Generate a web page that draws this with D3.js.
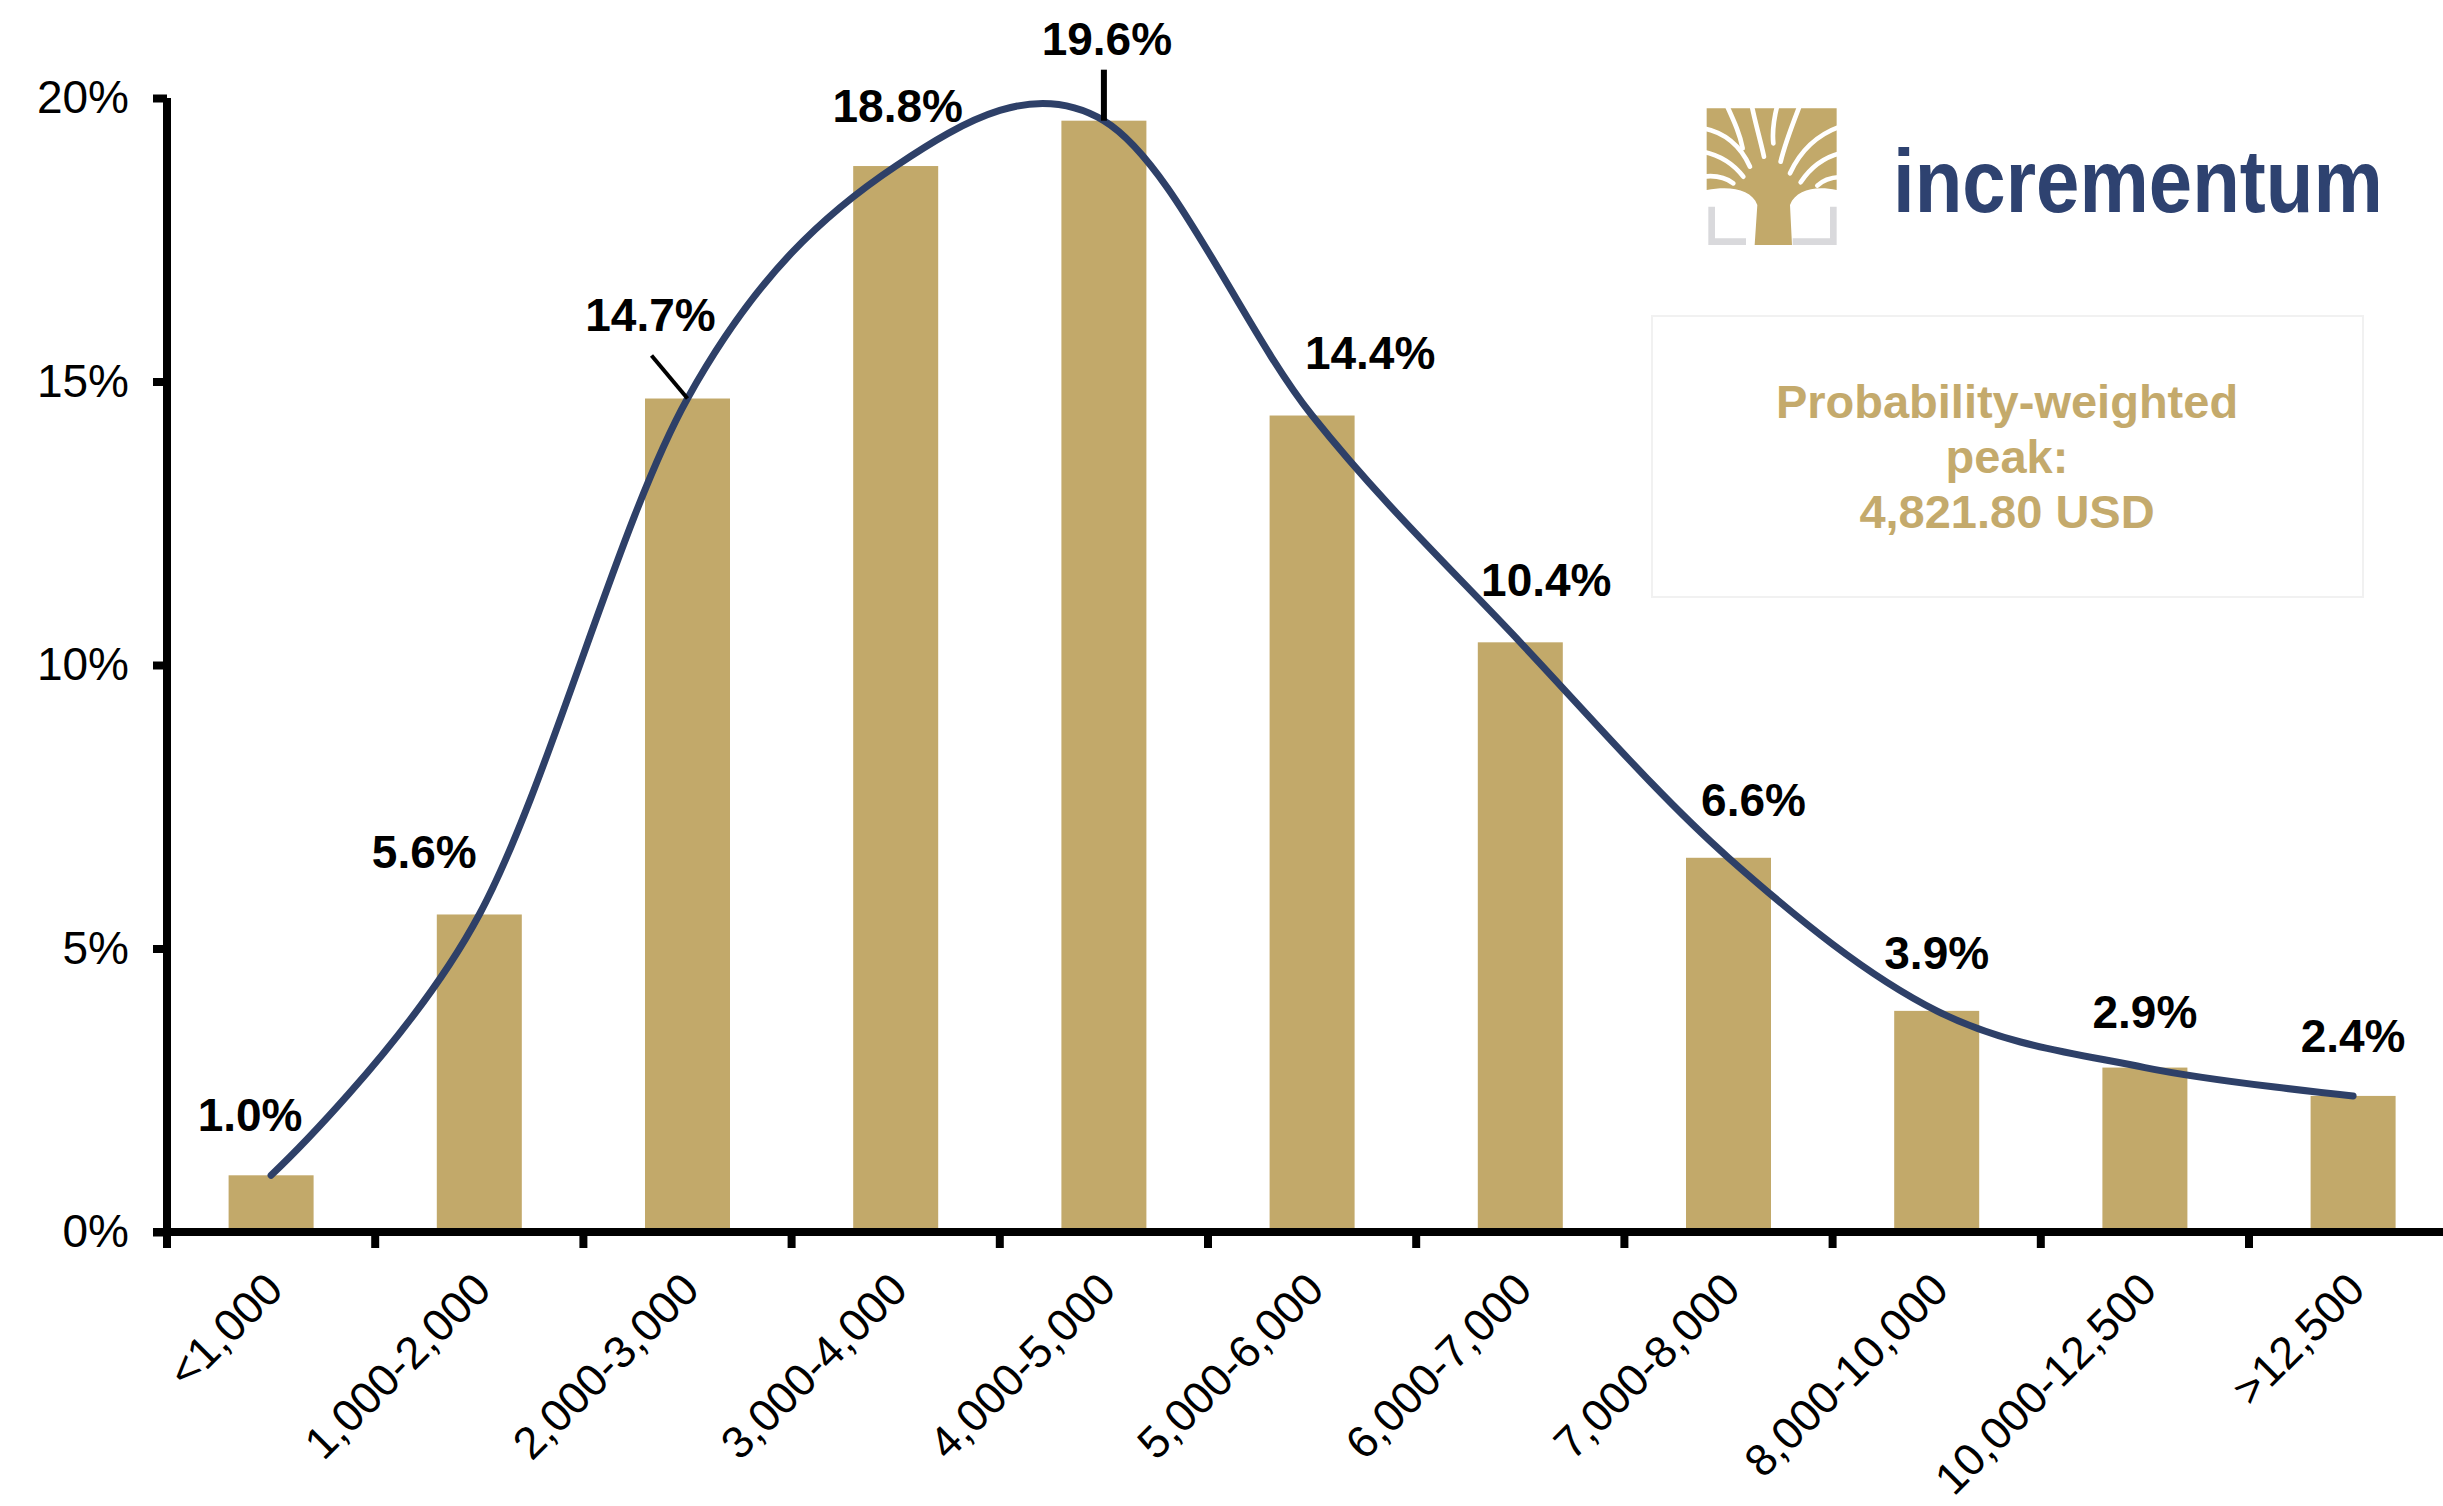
<!DOCTYPE html>
<html>
<head>
<meta charset="utf-8">
<script src="https://cdn.jsdelivr.net/npm/d3@7"></script>
<style>
  html, body { margin: 0; padding: 0; background: #ffffff; }
  svg { display: block; }
  text { font-family: "Liberation Sans", Arial, sans-serif; }
</style>
</head>
<body>
<svg id="chart" width="2443" height="1506"></svg>
<script>
// ---- data ----
const categories = ["<1,000", "1,000-2,000", "2,000-3,000", "3,000-4,000", "4,000-5,000",
  "5,000-6,000", "6,000-7,000", "7,000-8,000", "8,000-10,000", "10,000-12,500", ">12,500"];
const probabilities = [0.010, 0.056, 0.147, 0.188, 0.196, 0.144, 0.104, 0.066, 0.039, 0.029, 0.024];
const valueLabels = ["1.0%", "5.6%", "14.7%", "18.8%", "19.6%", "14.4%", "10.4%", "6.6%", "3.9%", "2.9%", "2.4%"];
const yTickValues = [0, 0.05, 0.10, 0.15, 0.20];
const annotationLines = ["Probability-weighted", "peak:", "4,821.80 USD"];
const brandName = "incrementum";

// ---- label placement (style, px offsets from bar top centre) ----
const labelDx = [-21, -55, -37, 2, 3, 58, 26, 25, 0, 0, 0];
const labelDy = [-44, -46, -68, -44, -66, -47, -46, -42, -42, -40, -44];
const leaderIdx = [2, 4];

// ---- styles ----
const GOLD = "#C2A96A";
const NAVY = "#2E4068";
const AXIS_W = 8;

const svg = d3.select("#chart");
const left = 167, bandW = 208.2;
const x = d3.scaleBand().domain(categories).range([left, left + categories.length * bandW]).padding(0);
const y = d3.scaleLinear().domain([0, 0.20]).range([1232, 98]);
const barW = 85;
const cx = c => x(c) + x.bandwidth() / 2;

// bars
svg.append("g").selectAll("rect").data(categories).join("rect")
  .attr("x", c => cx(c) - barW / 2)
  .attr("width", barW)
  .attr("y", (c, i) => y(probabilities[i]))
  .attr("height", (c, i) => y(0) - y(probabilities[i]))
  .attr("fill", GOLD);

// smoothed curve through bar tops
const line = d3.line()
  .x((d, i) => cx(categories[i]))
  .y(d => y(d))
  .curve(d3.curveCardinal.tension(0));
svg.append("path").datum(probabilities)
  .attr("d", line)
  .attr("fill", "none")
  .attr("stroke", NAVY)
  .attr("stroke-width", 7)
  .attr("stroke-linecap", "round");

// y axis
const yAxis = d3.axisLeft(y).tickValues(yTickValues).tickFormat(d3.format(".0%"))
  .tickSize(14).tickSizeOuter(0).tickPadding(24);
const gy = svg.append("g").attr("transform", `translate(${left},0)`).call(yAxis);
gy.select(".domain").attr("stroke", "#000").attr("stroke-width", AXIS_W).attr("d", `M0,${y(0.20)}V${y(0) + AXIS_W / 2}`);
gy.selectAll(".tick line").attr("stroke", "#000").attr("stroke-width", AXIS_W);
gy.selectAll(".tick text").attr("font-size", 46).attr("fill", "#000")
  .attr("font-family", "'Liberation Sans', Arial, sans-serif");

// x axis line + boundary ticks
const gx = svg.append("g");
gx.append("line").attr("x1", left - 14).attr("x2", 2443).attr("y1", y(0)).attr("y2", y(0))
  .attr("stroke", "#000").attr("stroke-width", AXIS_W);
gx.selectAll("line.tk").data(categories).join("line").attr("class", "tk")
  .attr("x1", c => x(c)).attr("x2", c => x(c))
  .attr("y1", y(0)).attr("y2", y(0) + 16)
  .attr("stroke", "#000").attr("stroke-width", AXIS_W);
gx.selectAll("text").data(categories).join("text")
  .attr("transform", c => `translate(${cx(c) + 14},${y(0) + 60}) rotate(-45)`)
  .attr("text-anchor", "end")
  .attr("font-size", 45)
  .attr("fill", "#000")
  .text(c => c);

// value labels
const gl = svg.append("g");
gl.selectAll("text").data(valueLabels).join("text")
  .attr("x", (d, i) => cx(categories[i]) + labelDx[i])
  .attr("y", (d, i) => y(probabilities[i]) + labelDy[i])
  .attr("text-anchor", "middle")
  .attr("font-size", 46)
  .attr("font-weight", "bold")
  .attr("fill", "#000")
  .text(d => d);
// leader lines
leaderIdx.forEach(i => {
  const bx = cx(categories[i]), by = y(probabilities[i]);
  const lx = bx + labelDx[i], ly = by + labelDy[i];
  const sx = i === 4 ? bx : lx + 1;
  gl.append("line")
    .attr("x1", sx).attr("y1", ly + (i === 4 ? 15 : 25))
    .attr("x2", bx).attr("y2", by)
    .attr("stroke", "#000").attr("stroke-width", i === 4 ? 6 : 4);
});

// annotation box
svg.append("rect").attr("x", 1652).attr("y", 316).attr("width", 711).attr("height", 281)
  .attr("fill", "none").attr("stroke", "#f1f1f1").attr("stroke-width", 2);
svg.append("g").selectAll("text").data(annotationLines).join("text")
  .attr("x", 2007).attr("y", (d, i) => 418 + i * 55)
  .attr("text-anchor", "middle")
  .attr("font-size", 47).attr("font-weight", "bold")
  .attr("fill", "#C4AA6C")
  .text(d => d);

// logo: tree icon
const logo = svg.append("g").attr("transform", "translate(1690,95) scale(0.3333)");
logo.append("path")
  .attr("d", "M50,40 H440 V285 C380,272 318,282 300,330 L306,450 H194 L202,330 C185,282 120,272 50,285 Z")
  .attr("fill", GOLD);
const gaps = [
  "M40,100 C100,112 150,150 180,215",
  "M40,170 C95,182 132,208 160,245",
  "M40,245 C80,240 110,250 130,265",
  "M110,30 C135,85 150,118 158,160",
  "M185,30 C196,85 210,130 222,185",
  "M262,30 C250,78 246,108 250,145",
  "M330,30 C305,95 285,145 272,200",
  "M450,95 C380,120 330,170 300,235",
  "M450,175 C400,188 360,220 332,262",
  "M450,246 C420,248 396,258 382,272"
];
logo.append("g").selectAll("path").data(gaps).join("path")
  .attr("d", d => d).attr("fill", "none").attr("stroke", "#fff")
  .attr("stroke-width", 14).attr("stroke-linecap", "round");
logo.append("path").attr("d", "M65,335 V440 H168").attr("fill", "none")
  .attr("stroke", "#D9D9DC").attr("stroke-width", 20);
logo.append("path").attr("d", "M430,335 V440 H308").attr("fill", "none")
  .attr("stroke", "#D9D9DC").attr("stroke-width", 20);

// logo: wordmark
svg.append("text")
  .attr("transform", "translate(1893,212) scale(1,1.15)")
  .attr("font-size", 78).attr("font-weight", "bold")
  .attr("fill", "#2E4270")
  .text(brandName);
</script>
</body>
</html>
